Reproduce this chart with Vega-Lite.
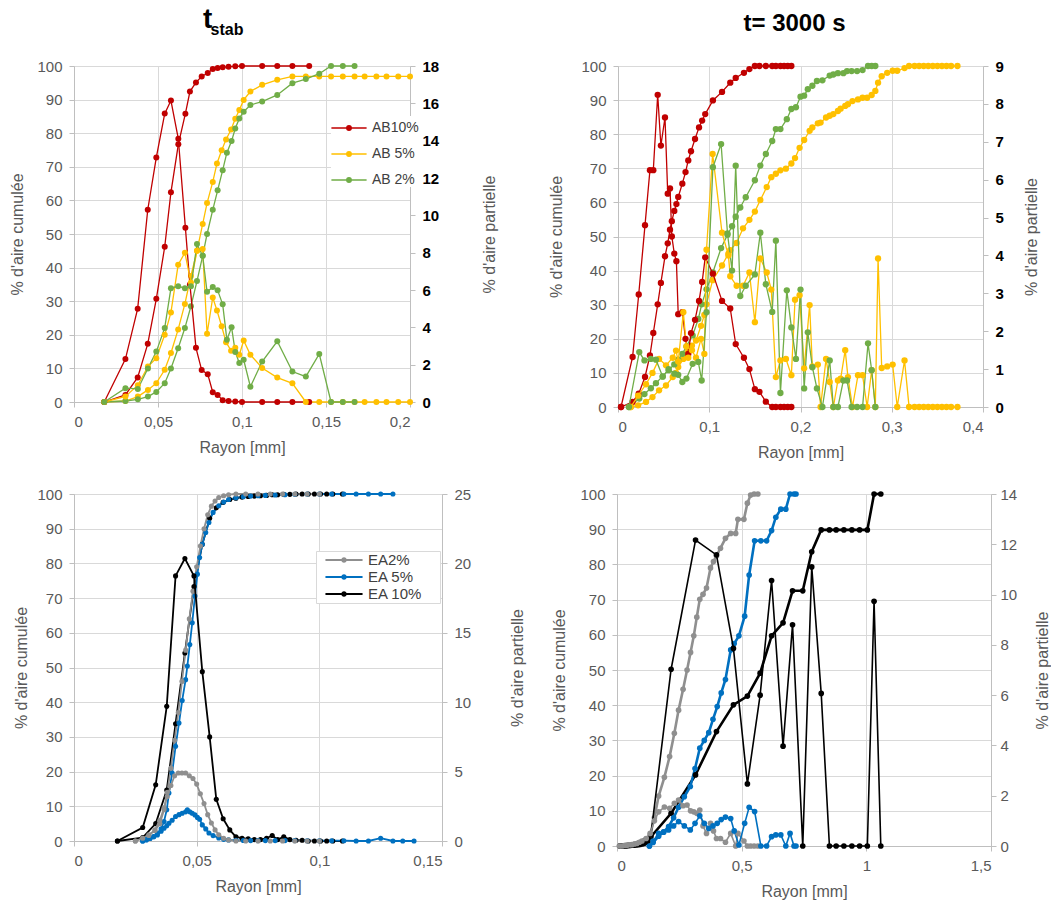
{
"$schema": "https://vega.github.io/schema/vega-lite/v6.json",
"background": "white",
"padding": {"left": 9, "top": 6, "right": 2, "bottom": 4},
"config": {
 "view": {"stroke": null},
 "font": "Liberation Sans",
 "axis": {"labelFont": "Liberation Sans", "labelFontSize": 15, "labelColor": "#595959", "titleFont": "Liberation Sans", "titleFontSize": 16, "titleFontWeight": "normal", "titleColor": "#595959", "gridColor": "#D9D9D9", "domainColor": "#BFBFBF", "tickColor": "#BFBFBF", "tickSize": 5, "labelPadding": 7},
 "title": {"font": "Liberation Sans", "fontWeight": "bold", "color": "black", "anchor": "middle"},
 "legend": {"labelFont": "Liberation Sans", "labelFontSize": 15, "labelColor": "#404040"}
},
"datasets": {
"tl": [
{"s":"AB10%","x":0.018,"c":0,"p":0},{"s":"AB10%","x":0.0306,"c":2.1,"p":2.3},{"s":"AB10%","x":0.0379,"c":7.3,"p":5.0},{"s":"AB10%","x":0.0439,"c":17.3,"p":10.3},{"s":"AB10%","x":0.049,"c":30.7,"p":13.1},{"s":"AB10%","x":0.054,"c":46.2,"p":15.45},{"s":"AB10%","x":0.0577,"c":62.4,"p":16.15},{"s":"AB10%","x":0.0621,"c":76.7,"p":14.1},{"s":"AB10%","x":0.0663,"c":85.8,"p":9.34},{"s":"AB10%","x":0.069,"c":92.4,"p":6.3},{"s":"AB10%","x":0.0726,"c":95.1,"p":2.9},{"s":"AB10%","x":0.076,"c":96.9,"p":1.71},{"s":"AB10%","x":0.0796,"c":97.9,"p":1.49},{"s":"AB10%","x":0.0826,"c":99.1,"p":0.52},{"s":"AB10%","x":0.0855,"c":99.4,"p":0.38},{"s":"AB10%","x":0.0885,"c":99.6,"p":0.1},{"s":"AB10%","x":0.092,"c":99.8,"p":0.05},{"s":"AB10%","x":0.096,"c":99.9,"p":0.03},{"s":"AB10%","x":0.1,"c":100,"p":0},{"s":"AB10%","x":0.112,"c":100,"p":0},{"s":"AB10%","x":0.121,"c":100,"p":0},{"s":"AB10%","x":0.13,"c":100,"p":0},{"s":"AB10%","x":0.14,"c":100,"p":0},
{"s":"AB 5%","x":0.018,"c":0,"p":0},{"s":"AB 5%","x":0.0306,"c":0.3,"p":0.3},{"s":"AB 5%","x":0.038,"c":1.6,"p":0.9},{"s":"AB 5%","x":0.044,"c":3.6,"p":1.9},{"s":"AB 5%","x":0.049,"c":5.6,"p":2.35},{"s":"AB 5%","x":0.054,"c":9.6,"p":3.6},{"s":"AB 5%","x":0.0577,"c":14.6,"p":4.8},{"s":"AB 5%","x":0.062,"c":21.6,"p":7.35},{"s":"AB 5%","x":0.066,"c":29.2,"p":8.0},{"s":"AB 5%","x":0.0696,"c":37.5,"p":6.4},{"s":"AB 5%","x":0.0732,"c":45.0,"p":8.1},{"s":"AB 5%","x":0.0766,"c":53.0,"p":8.2},{"s":"AB 5%","x":0.0792,"c":59.2,"p":3.65},{"s":"AB 5%","x":0.0826,"c":65.5,"p":5.6},{"s":"AB 5%","x":0.0851,"c":71.0,"p":4.9},{"s":"AB 5%","x":0.0879,"c":74.9,"p":4.06},{"s":"AB 5%","x":0.0905,"c":78.1,"p":3.2},{"s":"AB 5%","x":0.0935,"c":81.1,"p":2.75},{"s":"AB 5%","x":0.096,"c":84.3,"p":2.9},{"s":"AB 5%","x":0.0984,"c":86.9,"p":2.53},{"s":"AB 5%","x":0.101,"c":89.9,"p":3.29},{"s":"AB 5%","x":0.105,"c":92.4,"p":2.53},{"s":"AB 5%","x":0.112,"c":94.4,"p":1.82},{"s":"AB 5%","x":0.121,"c":95.9,"p":1.31},{"s":"AB 5%","x":0.13,"c":96.9,"p":1.0},{"s":"AB 5%","x":0.138,"c":96.9,"p":0},{"s":"AB 5%","x":0.146,"c":96.9,"p":0},{"s":"AB 5%","x":0.153,"c":96.9,"p":0},{"s":"AB 5%","x":0.16,"c":96.9,"p":0},{"s":"AB 5%","x":0.167,"c":96.9,"p":0},{"s":"AB 5%","x":0.173,"c":96.9,"p":0},{"s":"AB 5%","x":0.18,"c":96.9,"p":0},{"s":"AB 5%","x":0.186,"c":96.9,"p":0},{"s":"AB 5%","x":0.193,"c":96.9,"p":0},{"s":"AB 5%","x":0.2,"c":96.9,"p":0},
{"s":"AB 2%","x":0.018,"c":0,"p":0},{"s":"AB 2%","x":0.0306,"c":0.3,"p":0.74},{"s":"AB 2%","x":0.038,"c":0.8,"p":0.7},{"s":"AB 2%","x":0.044,"c":1.6,"p":1.8},{"s":"AB 2%","x":0.049,"c":3,"p":2.7},{"s":"AB 2%","x":0.054,"c":5.6,"p":3.97},{"s":"AB 2%","x":0.0577,"c":10,"p":6.1},{"s":"AB 2%","x":0.062,"c":16,"p":6.2},{"s":"AB 2%","x":0.066,"c":22,"p":6.1},{"s":"AB 2%","x":0.0696,"c":28.5,"p":6.2},{"s":"AB 2%","x":0.0732,"c":36,"p":8.46},{"s":"AB 2%","x":0.0766,"c":43.5,"p":7.83},{"s":"AB 2%","x":0.0792,"c":50,"p":5.9},{"s":"AB 2%","x":0.0826,"c":57.2,"p":6.16},{"s":"AB 2%","x":0.0855,"c":63,"p":5.98},{"s":"AB 2%","x":0.0885,"c":69,"p":5.23},{"s":"AB 2%","x":0.091,"c":74.2,"p":3.34},{"s":"AB 2%","x":0.0938,"c":77.7,"p":4.0},{"s":"AB 2%","x":0.096,"c":81.4,"p":2.68},{"s":"AB 2%","x":0.0984,"c":84.4,"p":2.09},{"s":"AB 2%","x":0.101,"c":86.4,"p":2.26},{"s":"AB 2%","x":0.105,"c":88.4,"p":0.82},{"s":"AB 2%","x":0.112,"c":89.4,"p":2.17},{"s":"AB 2%","x":0.121,"c":91.4,"p":3.25},{"s":"AB 2%","x":0.13,"c":94.9,"p":1.63},{"s":"AB 2%","x":0.138,"c":96.1,"p":1.36},{"s":"AB 2%","x":0.146,"c":97.7,"p":2.57},{"s":"AB 2%","x":0.153,"c":100,"p":0},{"s":"AB 2%","x":0.16,"c":100,"p":0},{"s":"AB 2%","x":0.167,"c":100,"p":0}
],
"tr": [
{"s":"AB10%","x":0.0033,"c":0,"p":0},{"s":"AB10%","x":0.016,"c":1.5,"p":1.32},{"s":"AB10%","x":0.0227,"c":3.9,"p":2.97},{"s":"AB10%","x":0.0296,"c":8.8,"p":4.8},{"s":"AB10%","x":0.035,"c":15.1,"p":6.25},{"s":"AB10%","x":0.0387,"c":21.7,"p":6.25},{"s":"AB10%","x":0.0435,"c":30.1,"p":8.24},{"s":"AB10%","x":0.047,"c":36.4,"p":6.9},{"s":"AB10%","x":0.0515,"c":44.2,"p":7.64},{"s":"AB10%","x":0.0545,"c":48,"p":5.63},{"s":"AB10%","x":0.057,"c":52,"p":5.77},{"s":"AB10%","x":0.059,"c":54.5,"p":4.5},{"s":"AB10%","x":0.0617,"c":57.5,"p":4.05},{"s":"AB10%","x":0.064,"c":59.5,"p":3.85},{"s":"AB10%","x":0.066,"c":61.6,"p":2.45},{"s":"AB10%","x":0.0705,"c":65.5,"p":2.5},{"s":"AB10%","x":0.074,"c":68.9,"p":1.8},{"s":"AB10%","x":0.077,"c":72.3,"p":1.4},{"s":"AB10%","x":0.08,"c":75,"p":1.95},{"s":"AB10%","x":0.0844,"c":78.6,"p":2.3},{"s":"AB10%","x":0.0888,"c":82,"p":2.8},{"s":"AB10%","x":0.0922,"c":84,"p":3.3},{"s":"AB10%","x":0.0956,"c":85.9,"p":3.95},{"s":"AB10%","x":0.104,"c":89.9,"p":3.52},{"s":"AB10%","x":0.114,"c":92.4,"p":2.8},{"s":"AB10%","x":0.123,"c":95.1,"p":2.6},{"s":"AB10%","x":0.129,"c":96.5,"p":1.66},{"s":"AB10%","x":0.138,"c":98,"p":1.3},{"s":"AB10%","x":0.144,"c":99.1,"p":1.0},{"s":"AB10%","x":0.15,"c":100,"p":0.47},{"s":"AB10%","x":0.155,"c":100,"p":0.4},{"s":"AB10%","x":0.162,"c":100,"p":0.14},{"s":"AB10%","x":0.169,"c":100,"p":0},{"s":"AB10%","x":0.173,"c":100,"p":0},{"s":"AB10%","x":0.178,"c":100,"p":0},{"s":"AB10%","x":0.182,"c":100,"p":0},{"s":"AB10%","x":0.186,"c":100,"p":0},{"s":"AB10%","x":0.19,"c":100,"p":0},
{"s":"AB 5%","x":0.014,"c":0,"p":0},{"s":"AB 5%","x":0.022,"c":0.5,"p":0.3},{"s":"AB 5%","x":0.0307,"c":1.5,"p":0.6},{"s":"AB 5%","x":0.0378,"c":2.9,"p":0.9},{"s":"AB 5%","x":0.045,"c":4.9,"p":1.27},{"s":"AB 5%","x":0.0526,"c":6.3,"p":1.1},{"s":"AB 5%","x":0.06,"c":8.8,"p":1.3},{"s":"AB 5%","x":0.0636,"c":10,"p":1.49},{"s":"AB 5%","x":0.066,"c":11.7,"p":1.2},{"s":"AB 5%","x":0.0716,"c":14.1,"p":2.5},{"s":"AB 5%","x":0.075,"c":15.5,"p":1.6},{"s":"AB 5%","x":0.077,"c":16.6,"p":1.3},{"s":"AB 5%","x":0.081,"c":18,"p":1.5},{"s":"AB 5%","x":0.0855,"c":19.5,"p":1.3},{"s":"AB 5%","x":0.091,"c":23.8,"p":1.8},{"s":"AB 5%","x":0.0946,"c":27,"p":1.4},{"s":"AB 5%","x":0.097,"c":30.1,"p":4.15},{"s":"AB 5%","x":0.1037,"c":37.2,"p":6.68},{"s":"AB 5%","x":0.114,"c":41.5,"p":4.6},{"s":"AB 5%","x":0.121,"c":45,"p":4.0},{"s":"AB 5%","x":0.123,"c":46,"p":3.45},{"s":"AB 5%","x":0.13,"c":48.1,"p":3.2},{"s":"AB 5%","x":0.137,"c":52.4,"p":3.2},{"s":"AB 5%","x":0.144,"c":54.9,"p":3.55},{"s":"AB 5%","x":0.15,"c":57.3,"p":2.24},{"s":"AB 5%","x":0.156,"c":60.7,"p":3.92},{"s":"AB 5%","x":0.163,"c":64.5,"p":3.55},{"s":"AB 5%","x":0.168,"c":67.4,"p":3.1},{"s":"AB 5%","x":0.173,"c":68.4,"p":0.79},{"s":"AB 5%","x":0.178,"c":69.4,"p":1.23},{"s":"AB 5%","x":0.184,"c":69.9,"p":1.27},{"s":"AB 5%","x":0.19,"c":71.4,"p":0.84},{"s":"AB 5%","x":0.194,"c":73,"p":2.83},{"s":"AB 5%","x":0.199,"c":76,"p":2.95},{"s":"AB 5%","x":0.204,"c":78.3,"p":1.02},{"s":"AB 5%","x":0.21,"c":81,"p":2.69},{"s":"AB 5%","x":0.213,"c":82,"p":1.07},{"s":"AB 5%","x":0.219,"c":83.2,"p":1.12},{"s":"AB 5%","x":0.222,"c":83.4,"p":0},{"s":"AB 5%","x":0.228,"c":84.9,"p":1.27},{"s":"AB 5%","x":0.232,"c":85.4,"p":0.66},{"s":"AB 5%","x":0.236,"c":85.9,"p":0},{"s":"AB 5%","x":0.241,"c":86.8,"p":0.7},{"s":"AB 5%","x":0.244,"c":87.5,"p":0.75},{"s":"AB 5%","x":0.249,"c":88.3,"p":1.5},{"s":"AB 5%","x":0.252,"c":88.8,"p":0.79},{"s":"AB 5%","x":0.257,"c":89.7,"p":0},{"s":"AB 5%","x":0.263,"c":90.2,"p":0.84},{"s":"AB 5%","x":0.268,"c":90.7,"p":0.84},{"s":"AB 5%","x":0.273,"c":90.7,"p":0},{"s":"AB 5%","x":0.278,"c":91.5,"p":0.97},{"s":"AB 5%","x":0.282,"c":92.7,"p":0},{"s":"AB 5%","x":0.285,"c":95.1,"p":3.92},{"s":"AB 5%","x":0.289,"c":97,"p":1.03},{"s":"AB 5%","x":0.295,"c":98,"p":1.07},{"s":"AB 5%","x":0.301,"c":98.6,"p":1.12},{"s":"AB 5%","x":0.306,"c":98.6,"p":0},{"s":"AB 5%","x":0.314,"c":99.4,"p":1.23},{"s":"AB 5%","x":0.319,"c":100,"p":0},{"s":"AB 5%","x":0.325,"c":100,"p":0},{"s":"AB 5%","x":0.33,"c":100,"p":0},{"s":"AB 5%","x":0.335,"c":100,"p":0},{"s":"AB 5%","x":0.34,"c":100,"p":0},{"s":"AB 5%","x":0.345,"c":100,"p":0},{"s":"AB 5%","x":0.35,"c":100,"p":0},{"s":"AB 5%","x":0.355,"c":100,"p":0},{"s":"AB 5%","x":0.36,"c":100,"p":0},{"s":"AB 5%","x":0.365,"c":100,"p":0},{"s":"AB 5%","x":0.372,"c":100,"p":0},
{"s":"AB 2%","x":0.012,"c":0,"p":0},{"s":"AB 2%","x":0.0233,"c":2.5,"p":1.45},{"s":"AB 2%","x":0.029,"c":3.8,"p":1.23},{"s":"AB 2%","x":0.036,"c":5.5,"p":1.27},{"s":"AB 2%","x":0.0416,"c":7,"p":1.25},{"s":"AB 2%","x":0.049,"c":9,"p":0.8},{"s":"AB 2%","x":0.0555,"c":10.8,"p":1.0},{"s":"AB 2%","x":0.0617,"c":12.5,"p":0.88},{"s":"AB 2%","x":0.066,"c":13.9,"p":0.85},{"s":"AB 2%","x":0.0705,"c":15.6,"p":0.66},{"s":"AB 2%","x":0.075,"c":17.8,"p":0.75},{"s":"AB 2%","x":0.0818,"c":21,"p":1.14},{"s":"AB 2%","x":0.088,"c":25.8,"p":1.19},{"s":"AB 2%","x":0.0917,"c":30.1,"p":0.7},{"s":"AB 2%","x":0.097,"c":34.5,"p":2.5},{"s":"AB 2%","x":0.104,"c":39.5,"p":6.33},{"s":"AB 2%","x":0.113,"c":46.6,"p":6.94},{"s":"AB 2%","x":0.12,"c":50.5,"p":4.58},{"s":"AB 2%","x":0.125,"c":53,"p":3.6},{"s":"AB 2%","x":0.129,"c":55.8,"p":6.37},{"s":"AB 2%","x":0.134,"c":58.5,"p":2.93},{"s":"AB 2%","x":0.14,"c":61.5,"p":3.2},{"s":"AB 2%","x":0.15,"c":66.5,"p":3.5},{"s":"AB 2%","x":0.156,"c":70.8,"p":4.6},{"s":"AB 2%","x":0.162,"c":74.2,"p":3.24},{"s":"AB 2%","x":0.169,"c":78,"p":2.51},{"s":"AB 2%","x":0.173,"c":81.5,"p":4.39},{"s":"AB 2%","x":0.178,"c":81.5,"p":0.37},{"s":"AB 2%","x":0.185,"c":84.4,"p":3.08},{"s":"AB 2%","x":0.19,"c":87.4,"p":2.1},{"s":"AB 2%","x":0.195,"c":87.9,"p":1.27},{"s":"AB 2%","x":0.2,"c":91,"p":3.1},{"s":"AB 2%","x":0.204,"c":91.3,"p":0.49},{"s":"AB 2%","x":0.208,"c":93.2,"p":1.97},{"s":"AB 2%","x":0.213,"c":94.2,"p":1.05},{"s":"AB 2%","x":0.218,"c":95.6,"p":0.49},{"s":"AB 2%","x":0.224,"c":95.8,"p":0},{"s":"AB 2%","x":0.232,"c":97.2,"p":1.23},{"s":"AB 2%","x":0.236,"c":97.5,"p":0},{"s":"AB 2%","x":0.241,"c":97.9,"p":0},{"s":"AB 2%","x":0.247,"c":97.9,"p":0.7},{"s":"AB 2%","x":0.251,"c":98.5,"p":0.7},{"s":"AB 2%","x":0.256,"c":98.5,"p":0},{"s":"AB 2%","x":0.262,"c":98.5,"p":0},{"s":"AB 2%","x":0.268,"c":98.8,"p":0},{"s":"AB 2%","x":0.274,"c":100,"p":1.68},{"s":"AB 2%","x":0.278,"c":100,"p":0.97},{"s":"AB 2%","x":0.282,"c":100,"p":0}
],
"bl": [
{"s":"EA 10%","x":0.0177,"c":0,"p":0},{"s":"EA 10%","x":0.028,"c":1,"p":0.97},{"s":"EA 10%","x":0.0333,"c":5,"p":4.05},{"s":"EA 10%","x":0.0378,"c":14.7,"p":9.7},{"s":"EA 10%","x":0.0414,"c":33.8,"p":19.1},{"s":"EA 10%","x":0.0452,"c":54.2,"p":20.35},{"s":"EA 10%","x":0.0489,"c":73.3,"p":19.1},{"s":"EA 10%","x":0.0523,"c":85.5,"p":12.2},{"s":"EA 10%","x":0.0553,"c":93,"p":7.5},{"s":"EA 10%","x":0.058,"c":96,"p":3.0},{"s":"EA 10%","x":0.0608,"c":97.6,"p":1.6},{"s":"EA 10%","x":0.0635,"c":98.4,"p":0.8},{"s":"EA 10%","x":0.066,"c":98.8,"p":0.3},{"s":"EA 10%","x":0.0685,"c":99.1,"p":0.2},{"s":"EA 10%","x":0.071,"c":99.3,"p":0.15},{"s":"EA 10%","x":0.0735,"c":99.4,"p":0.1},{"s":"EA 10%","x":0.076,"c":99.5,"p":0.1},{"s":"EA 10%","x":0.0785,"c":99.6,"p":0.2},{"s":"EA 10%","x":0.0808,"c":99.8,"p":0.4},{"s":"EA 10%","x":0.083,"c":99.8,"p":0.1},{"s":"EA 10%","x":0.0855,"c":99.9,"p":0.3},{"s":"EA 10%","x":0.088,"c":99.9,"p":0.1},{"s":"EA 10%","x":0.0905,"c":100,"p":0.05},{"s":"EA 10%","x":0.093,"c":100,"p":0.05},{"s":"EA 10%","x":0.0955,"c":100,"p":0},{"s":"EA 10%","x":0.098,"c":100,"p":0},{"s":"EA 10%","x":0.1005,"c":100,"p":0},{"s":"EA 10%","x":0.103,"c":100,"p":0},{"s":"EA 10%","x":0.1055,"c":100,"p":0},{"s":"EA 10%","x":0.1094,"c":100,"p":0},
{"s":"EA 5%","x":0.028,"c":0,"p":0},{"s":"EA 5%","x":0.0295,"c":0.3,"p":0.1},{"s":"EA 5%","x":0.031,"c":0.7,"p":0.2},{"s":"EA 5%","x":0.0325,"c":1.3,"p":0.3},{"s":"EA 5%","x":0.034,"c":2.2,"p":0.43},{"s":"EA 5%","x":0.0355,"c":3.5,"p":0.7},{"s":"EA 5%","x":0.0367,"c":5.6,"p":0.92},{"s":"EA 5%","x":0.0378,"c":9,"p":1.1},{"s":"EA 5%","x":0.0387,"c":13.8,"p":1.28},{"s":"EA 5%","x":0.04,"c":19.6,"p":1.5},{"s":"EA 5%","x":0.0414,"c":27.3,"p":1.76},{"s":"EA 5%","x":0.0428,"c":34,"p":1.9},{"s":"EA 5%","x":0.0441,"c":40.5,"p":2.0},{"s":"EA 5%","x":0.0455,"c":46.5,"p":2.1},{"s":"EA 5%","x":0.0462,"c":50.4,"p":2.24},{"s":"EA 5%","x":0.0472,"c":56.6,"p":2.1},{"s":"EA 5%","x":0.0482,"c":62.9,"p":2.0},{"s":"EA 5%","x":0.0493,"c":70.6,"p":1.88},{"s":"EA 5%","x":0.0503,"c":76.9,"p":1.7},{"s":"EA 5%","x":0.0512,"c":81.7,"p":1.57},{"s":"EA 5%","x":0.0523,"c":85.5,"p":1.16},{"s":"EA 5%","x":0.0537,"c":88.9,"p":0.87},{"s":"EA 5%","x":0.055,"c":91.8,"p":0.58},{"s":"EA 5%","x":0.0567,"c":94.7,"p":0.39},{"s":"EA 5%","x":0.059,"c":96.6,"p":0.22},{"s":"EA 5%","x":0.061,"c":97.7,"p":0.12},{"s":"EA 5%","x":0.063,"c":98.4,"p":0.08},{"s":"EA 5%","x":0.066,"c":98.9,"p":0.05},{"s":"EA 5%","x":0.069,"c":99.2,"p":0.04},{"s":"EA 5%","x":0.072,"c":99.4,"p":0.03},{"s":"EA 5%","x":0.075,"c":99.5,"p":0.03},{"s":"EA 5%","x":0.078,"c":99.6,"p":0.03},{"s":"EA 5%","x":0.082,"c":99.7,"p":0.03},{"s":"EA 5%","x":0.086,"c":99.8,"p":0.03},{"s":"EA 5%","x":0.09,"c":99.9,"p":0.03},{"s":"EA 5%","x":0.095,"c":100,"p":0.02},{"s":"EA 5%","x":0.1,"c":100,"p":0.02},{"s":"EA 5%","x":0.105,"c":100,"p":0.02},{"s":"EA 5%","x":0.11,"c":100,"p":0.02},{"s":"EA 5%","x":0.115,"c":100,"p":0},{"s":"EA 5%","x":0.12,"c":100,"p":0},{"s":"EA 5%","x":0.125,"c":100,"p":0.2},{"s":"EA 5%","x":0.13,"c":100,"p":0},{"s":"EA 5%","x":0.134,"p":0},{"s":"EA 5%","x":0.1386,"p":0},
{"s":"EA2%","x":0.025,"c":0,"p":0},{"s":"EA2%","x":0.028,"c":0.8,"p":0.2},{"s":"EA2%","x":0.0305,"c":1.8,"p":0.4},{"s":"EA2%","x":0.033,"c":3,"p":0.8},{"s":"EA2%","x":0.035,"c":5,"p":1.5},{"s":"EA2%","x":0.0367,"c":9,"p":2.4},{"s":"EA2%","x":0.038,"c":14,"p":3.2},{"s":"EA2%","x":0.0395,"c":21,"p":4.0},{"s":"EA2%","x":0.041,"c":29,"p":4.7},{"s":"EA2%","x":0.0425,"c":37,"p":4.9},{"s":"EA2%","x":0.044,"c":46,"p":4.9},{"s":"EA2%","x":0.0455,"c":55,"p":4.9},{"s":"EA2%","x":0.047,"c":64,"p":4.7},{"s":"EA2%","x":0.0485,"c":72,"p":4.5},{"s":"EA2%","x":0.05,"c":79,"p":4.1},{"s":"EA2%","x":0.0515,"c":85,"p":3.4},{"s":"EA2%","x":0.053,"c":90,"p":2.7},{"s":"EA2%","x":0.0545,"c":94,"p":1.9},{"s":"EA2%","x":0.056,"c":96.5,"p":1.3},{"s":"EA2%","x":0.0575,"c":98,"p":0.8},{"s":"EA2%","x":0.059,"c":99,"p":0.45},{"s":"EA2%","x":0.061,"c":99.5,"p":0.2},{"s":"EA2%","x":0.063,"c":99.8,"p":0.08},{"s":"EA2%","x":0.066,"c":100,"p":0},{"s":"EA2%","x":0.07,"c":100,"p":0},{"s":"EA2%","x":0.075,"c":100,"p":0},{"s":"EA2%","x":0.08,"c":100,"p":0},{"s":"EA2%","x":0.085,"c":100,"p":0},{"s":"EA2%","x":0.09,"c":100,"p":0},{"s":"EA2%","x":0.095,"c":100,"p":0},{"s":"EA2%","x":0.1,"c":100,"p":0}
],
"br": [
{"s":"EA 10%","x":0.012,"c":0,"p":0},{"s":"EA 10%","x":0.02,"c":0,"p":0},{"s":"EA 10%","x":0.028,"c":0,"p":0},{"s":"EA 10%","x":0.036,"c":0.1,"p":0.01},{"s":"EA 10%","x":0.044,"c":0.15,"p":0.02},{"s":"EA 10%","x":0.052,"c":0.2,"p":0.02},{"s":"EA 10%","x":0.06,"c":0.3,"p":0.03},{"s":"EA 10%","x":0.068,"c":0.4,"p":0.03},{"s":"EA 10%","x":0.076,"c":0.5,"p":0.04},{"s":"EA 10%","x":0.084,"c":0.7,"p":0.05},{"s":"EA 10%","x":0.092,"c":0.9,"p":0.06},{"s":"EA 10%","x":0.1,"c":1.1,"p":0.08},{"s":"EA 10%","x":0.108,"c":1.4,"p":0.1},{"s":"EA 10%","x":0.116,"c":1.7,"p":0.15},{"s":"EA 10%","x":0.124,"c":2.1,"p":0.2},{"s":"EA 10%","x":0.136,"c":2.6,"p":0.44},{"s":"EA 10%","x":0.217,"c":9.3,"p":7.03},{"s":"EA 10%","x":0.315,"c":20.2,"p":12.17},{"s":"EA 10%","x":0.399,"c":32.5,"p":11.58},{"s":"EA 10%","x":0.467,"c":40.1,"p":7.86},{"s":"EA 10%","x":0.523,"c":42.6,"p":2.47},{"s":"EA 10%","x":0.574,"c":49.1,"p":6.0},{"s":"EA 10%","x":0.62,"c":59.7,"p":10.56},{"s":"EA 10%","x":0.666,"c":63.4,"p":3.97},{"s":"EA 10%","x":0.704,"c":72.5,"p":8.8},{"s":"EA 10%","x":0.745,"c":72.5,"p":0},{"s":"EA 10%","x":0.781,"c":83.6,"p":11.1},{"s":"EA 10%","x":0.819,"c":89.8,"p":6.07},{"s":"EA 10%","x":0.852,"c":89.8,"p":0},{"s":"EA 10%","x":0.879,"c":89.8,"p":0},{"s":"EA 10%","x":0.91,"c":89.8,"p":0},{"s":"EA 10%","x":0.942,"c":89.8,"p":0},{"s":"EA 10%","x":0.973,"c":89.8,"p":0},{"s":"EA 10%","x":1.004,"c":89.8,"p":0},{"s":"EA 10%","x":1.031,"c":100,"p":9.73},{"s":"EA 10%","x":1.058,"c":100,"p":0},
{"s":"EA2%","x":0.01,"c":0,"p":0},{"s":"EA2%","x":0.02,"c":0,"p":0},{"s":"EA2%","x":0.03,"c":0.1,"p":0.02},{"s":"EA2%","x":0.04,"c":0.2,"p":0.03},{"s":"EA2%","x":0.05,"c":0.3,"p":0.05},{"s":"EA2%","x":0.06,"c":0.4,"p":0.05},{"s":"EA2%","x":0.07,"c":0.5,"p":0.08},{"s":"EA2%","x":0.08,"c":0.7,"p":0.1},{"s":"EA2%","x":0.09,"c":0.9,"p":0.15},{"s":"EA2%","x":0.1,"c":1.2,"p":0.2},{"s":"EA2%","x":0.117,"c":2.0,"p":0.3},{"s":"EA2%","x":0.133,"c":3.1,"p":0.5},{"s":"EA2%","x":0.15,"c":8,"p":1.0},{"s":"EA2%","x":0.167,"c":14.2,"p":1.36},{"s":"EA2%","x":0.19,"c":19.5,"p":1.55},{"s":"EA2%","x":0.211,"c":25.4,"p":1.5},{"s":"EA2%","x":0.23,"c":32,"p":1.7},{"s":"EA2%","x":0.247,"c":38.6,"p":1.83},{"s":"EA2%","x":0.265,"c":44.5,"p":1.6},{"s":"EA2%","x":0.281,"c":50,"p":1.63},{"s":"EA2%","x":0.295,"c":55,"p":1.4},{"s":"EA2%","x":0.308,"c":59.7,"p":1.36},{"s":"EA2%","x":0.32,"c":65,"p":1.3},{"s":"EA2%","x":0.332,"c":70.1,"p":1.43},{"s":"EA2%","x":0.345,"c":71.5,"p":0.8},{"s":"EA2%","x":0.359,"c":73.3,"p":0.5},{"s":"EA2%","x":0.375,"c":79,"p":0.9},{"s":"EA2%","x":0.387,"c":80.8,"p":0.6},{"s":"EA2%","x":0.399,"c":82.4,"p":0.3},{"s":"EA2%","x":0.415,"c":84.6,"p":0.3},{"s":"EA2%","x":0.435,"c":87.4,"p":0.15},{"s":"EA2%","x":0.456,"c":88.8,"p":0.5},{"s":"EA2%","x":0.476,"c":88.8,"p":0},{"s":"EA2%","x":0.485,"c":92.8,"p":0.5},{"s":"EA2%","x":0.509,"c":92.8,"p":0.2},{"s":"EA2%","x":0.523,"c":97.4,"p":0},{"s":"EA2%","x":0.536,"c":99.7,"p":0},{"s":"EA2%","x":0.55,"c":100,"p":0},{"s":"EA2%","x":0.565,"c":100,"p":0},
{"s":"EA 5%","x":0.13,"c":0,"p":0},{"s":"EA 5%","x":0.145,"c":1.0,"p":0.2},{"s":"EA 5%","x":0.167,"c":2.8,"p":0.5},{"s":"EA 5%","x":0.187,"c":4,"p":0.55},{"s":"EA 5%","x":0.207,"c":5.5,"p":0.64},{"s":"EA 5%","x":0.227,"c":8,"p":0.8},{"s":"EA 5%","x":0.247,"c":11,"p":0.97},{"s":"EA 5%","x":0.27,"c":14,"p":0.8},{"s":"EA 5%","x":0.294,"c":16.9,"p":0.64},{"s":"EA 5%","x":0.313,"c":22,"p":0.9},{"s":"EA 5%","x":0.332,"c":27.8,"p":1.2},{"s":"EA 5%","x":0.35,"c":30,"p":0.9},{"s":"EA 5%","x":0.368,"c":32.2,"p":0.7},{"s":"EA 5%","x":0.385,"c":36,"p":0.8},{"s":"EA 5%","x":0.402,"c":39.6,"p":0.9},{"s":"EA 5%","x":0.418,"c":43.5,"p":1.05},{"s":"EA 5%","x":0.435,"c":47.3,"p":1.15},{"s":"EA 5%","x":0.456,"c":55.7,"p":1.09},{"s":"EA 5%","x":0.47,"c":57.5,"p":0.6},{"s":"EA 5%","x":0.489,"c":59.7,"p":0.04},{"s":"EA 5%","x":0.512,"c":65.3,"p":0.9},{"s":"EA 5%","x":0.53,"c":77,"p":1.54},{"s":"EA 5%","x":0.552,"c":86.7,"p":1.37},{"s":"EA 5%","x":0.577,"c":86.7,"p":0},{"s":"EA 5%","x":0.6,"c":86.7,"p":0},{"s":"EA 5%","x":0.62,"c":89.6,"p":0.37},{"s":"EA 5%","x":0.637,"c":93.4,"p":0.44},{"s":"EA 5%","x":0.657,"c":95.7,"p":0.44},{"s":"EA 5%","x":0.677,"c":95.7,"p":0},{"s":"EA 5%","x":0.694,"c":100,"p":0.5},{"s":"EA 5%","x":0.71,"c":100,"p":0},{"s":"EA 5%","x":0.718,"c":100,"p":0}
]
},
"spacing": 27,
"resolve": {"scale": {"color": "independent"}, "legend": {"color": "independent"}},
"vconcat": [
{
 "spacing": 50,
 "resolve": {"scale": {"color": "independent"}, "legend": {"color": "independent"}},
 "hconcat": [
 {
  "width": 336, "height": 336,
  "title": {"text": "t\u00a0\u00a0\u00a0\u00a0\u00a0\u200b", "subtitle": "stab", "fontSize": 28, "subtitleFont": "Liberation Sans", "subtitleFontSize": 16, "subtitleFontWeight": "bold", "subtitleColor": "black", "subtitlePadding": -12, "dx": -15, "offset": 21},
  "data": {"name": "tl"},
  "encoding": {
   "x": {"field": "x", "type": "quantitative", "scale": {"domain": [0, 0.2], "nice": false}, "axis": {"title": "Rayon [mm]", "values": [0, 0.05, 0.1, 0.15, 0.2], "labelExpr": "replace(format(datum.value, '~g'), '.', ',')", "titlePadding": 10}},
   "color": {"field": "s", "type": "nominal", "scale": {"domain": ["AB10%", "AB 5%", "AB 2%"], "range": ["#C00000", "#FFC000", "#70AD47"]},
    "legend": {"orient": "none", "legendX": 257, "legendY": 50, "title": null, "labelFontSize": 14, "symbolType": "M-1.6,0H1.6M-0.2,0a0.2,0.2 0 1,0 0.4,0a0.2,0.2 0 1,0 -0.4,0M-0.08,0a0.08,0.08 0 1,0 0.16,0a0.08,0.08 0 1,0 -0.16,0", "symbolSize": 484, "symbolStrokeWidth": 1.5, "symbolOffset": 6, "labelOffset": 11, "rowPadding": 7, "padding": 0, "fillColor": "white"}}
  },
  "layer": [
   {"transform": [{"filter": "isValid(datum.c)"}], "mark": {"type": "line", "strokeWidth": 1.3, "point": {"filled": true, "size": 36}},
    "encoding": {"y": {"field": "c", "type": "quantitative", "scale": {"domain": [0, 100], "nice": false}, "axis": {"title": "% d'aire cumulée", "values": [0,10,20,30,40,50,60,70,80,90,100], "titlePadding": 11}}}},
   {"transform": [{"filter": "isValid(datum.p)"}], "mark": {"type": "line", "strokeWidth": 1.3, "point": {"filled": true, "size": 36}},
    "encoding": {"y": {"field": "p", "type": "quantitative", "scale": {"domain": [0, 18], "nice": false}, "axis": {"orient": "right", "grid": false, "title": "% d'aire partielle", "titleAngle": 270, "titleBaseline": "top", "titlePadding": 43, "values": [0,2,4,6,8,10,12,14,16,18], "labelFontWeight": "bold", "labelColor": "black", "labelPadding": 7}}}}
  ],
  "resolve": {"scale": {"y": "independent"}}
 },
 {
  "width": 365, "height": 341,
  "title": {"text": "t= 3000 s", "fontSize": 24, "dx": -6, "offset": 23},
  "data": {"name": "tr"},
  "encoding": {
   "x": {"field": "x", "type": "quantitative", "scale": {"domain": [0, 0.4], "nice": false}, "axis": {"title": "Rayon [mm]", "values": [0, 0.1, 0.2, 0.3, 0.4], "labelExpr": "replace(format(datum.value, '~g'), '.', ',')", "titlePadding": 10}},
   "color": {"field": "s", "type": "nominal", "scale": {"domain": ["AB10%", "AB 5%", "AB 2%"], "range": ["#C00000", "#FFC000", "#70AD47"]}, "legend": null}
  },
  "layer": [
   {"transform": [{"filter": "isValid(datum.c)"}], "mark": {"type": "line", "strokeWidth": 1.3, "point": {"filled": true, "size": 40}},
    "encoding": {"y": {"field": "c", "type": "quantitative", "scale": {"domain": [0, 100], "nice": false}, "axis": {"title": "% d'aire cumulée", "values": [0,10,20,30,40,50,60,70,80,90,100], "titlePadding": 16}}}},
   {"transform": [{"filter": "isValid(datum.p)"}], "mark": {"type": "line", "strokeWidth": 1.3, "point": {"filled": true, "size": 40}},
    "encoding": {"y": {"field": "p", "type": "quantitative", "scale": {"domain": [0, 9], "nice": false}, "axis": {"orient": "right", "grid": false, "title": "% d'aire partielle", "titleAngle": 270, "titleBaseline": "top", "titlePadding": 20, "values": [0,1,2,3,4,5,6,7,8,9], "labelFontWeight": "bold", "labelColor": "black", "labelPadding": 7}}}}
  ],
  "resolve": {"scale": {"y": "independent"}}
 }
 ]
},
{
 "spacing": 25,
 "resolve": {"scale": {"color": "independent"}, "legend": {"color": "independent"}},
 "hconcat": [
 {
  "width": 368, "height": 347,
  "data": {"name": "bl"},
  "encoding": {
   "x": {"field": "x", "type": "quantitative", "scale": {"domain": [0, 0.15], "nice": false}, "axis": {"title": "Rayon [mm]", "values": [0, 0.05, 0.1, 0.15], "labelExpr": "replace(format(datum.value, '~g'), '.', ',')", "titlePadding": 10}},
   "color": {"field": "s", "type": "nominal", "scale": {"domain": ["EA2%", "EA 5%", "EA 10%"], "range": ["#8F8F8F", "#0070C0", "#000000"]},
    "legend": {"orient": "none", "legendX": 242, "legendY": 57, "title": null, "symbolType": "M-2.65,0H2.65M-0.25,0a0.25,0.25 0 1,0 0.5,0a0.25,0.25 0 1,0 -0.5,0M-0.1,0a0.1,0.1 0 1,0 0.2,0a0.1,0.1 0 1,0 -0.2,0", "symbolSize": 196, "symbolStrokeWidth": 2, "symbolOffset": 19, "labelOffset": 16, "rowPadding": 1, "padding": 1, "fillColor": "white", "strokeColor": "#D9D9D9", "labelExpr": "datum.label + '\u00a0\u00a0\u00a0\u00a0\u200b'"}}
  },
  "layer": [
   {"transform": [{"filter": "isValid(datum.c)"}], "mark": {"type": "line", "strokeWidth": 1.8, "point": {"filled": true, "size": 26}},
    "encoding": {"y": {"field": "c", "type": "quantitative", "scale": {"domain": [0, 100], "nice": false}, "axis": {"title": "% d'aire cumulée", "values": [0,10,20,30,40,50,60,70,80,90,100], "titlePadding": 7}}}},
   {"transform": [{"filter": "isValid(datum.p)"}], "mark": {"type": "line", "strokeWidth": 1.8, "point": {"filled": true, "size": 26}},
    "encoding": {"y": {"field": "p", "type": "quantitative", "scale": {"domain": [0, 25], "nice": false}, "axis": {"orient": "right", "grid": false, "title": "% d'aire partielle", "titleAngle": 270, "titleBaseline": "top", "titlePadding": 39, "values": [0,5,10,15,20,25], "labelPadding": 7}}}}
  ],
  "resolve": {"scale": {"y": "independent"}}
 },
 {
  "width": 374, "height": 352,
  "data": {"name": "br"},
  "encoding": {
   "x": {"field": "x", "type": "quantitative", "scale": {"domain": [0, 1.5], "nice": false}, "axis": {"title": "Rayon [mm]", "values": [0, 0.5, 1, 1.5], "labelExpr": "replace(format(datum.value, '~g'), '.', ',')", "titlePadding": 10}},
   "color": {"field": "s", "type": "nominal", "scale": {"domain": ["EA2%", "EA 5%", "EA 10%"], "range": ["#8F8F8F", "#0070C0", "#000000"]}, "legend": null}
  },
  "layer": [
   {"transform": [{"filter": "isValid(datum.c)"}], "mark": {"type": "line", "strokeWidth": 2.6, "point": {"filled": true, "size": 32}},
    "encoding": {"y": {"field": "c", "type": "quantitative", "scale": {"domain": [0, 100], "nice": false}, "axis": {"title": "% d'aire cumulée", "values": [0,10,20,30,40,50,60,70,80,90,100], "titlePadding": 12}}}},
   {"transform": [{"filter": "isValid(datum.p)"}], "mark": {"type": "line", "strokeWidth": 1.6, "point": {"filled": true, "size": 32}},
    "encoding": {"y": {"field": "p", "type": "quantitative", "scale": {"domain": [0, 14], "nice": false}, "axis": {"orient": "right", "grid": false, "title": "% d'aire partielle", "titleAngle": 270, "titleBaseline": "top", "titlePadding": 18, "values": [0,2,4,6,8,10,12,14], "labelPadding": 4}}}}
  ],
  "resolve": {"scale": {"y": "independent"}}
 }
 ]
}
]
}
